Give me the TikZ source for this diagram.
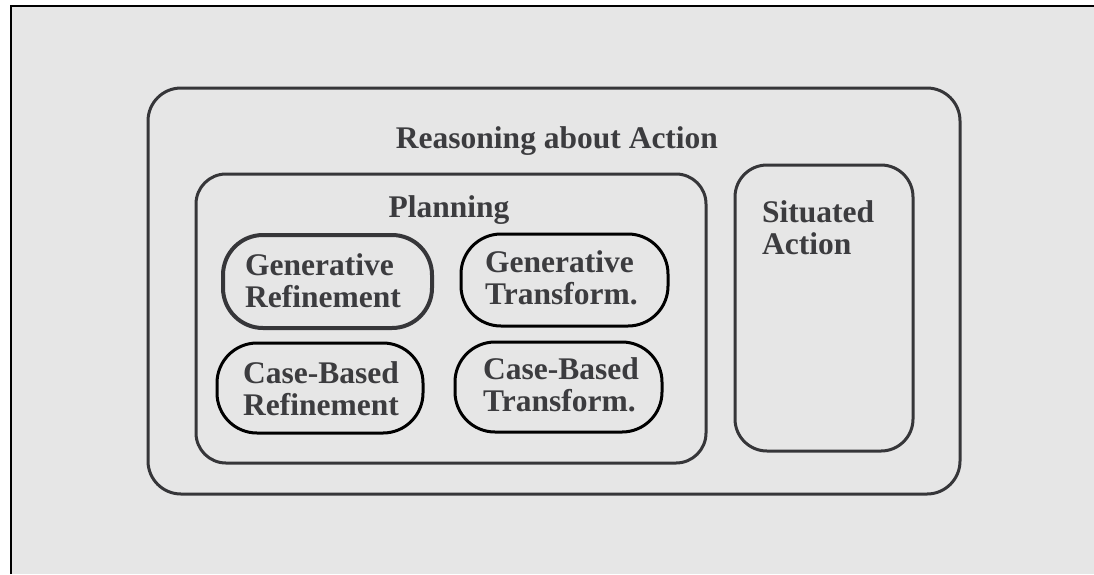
\documentclass[tikz,border=0pt]{standalone}
\usepackage{fontspec}
\setmainfont{Liberation Serif}
\definecolor{bg}{HTML}{E6E6E6}
\definecolor{stroke}{HTML}{363639}
\definecolor{txt}{HTML}{3C3C3F}
\tikzset{
  lbl/.style={text=txt, font=\fontsize{31.5}{32}\selectfont\bfseries, inner sep=0pt},
  plbl/.style={lbl, anchor=north west, align=left},
  bigbox/.style={draw=stroke, line width=3pt, rounded corners=33pt},
  pill/.style={draw=black, line width=3pt, rounded corners=40pt, inner sep=0pt},
  pillthick/.style={pill, draw=stroke, line width=4pt}
}
\begin{document}
\begin{tikzpicture}[x=1pt,y=-1pt]
\useasboundingbox (0,0) rectangle (1094,574);
\fill[white] (0,0) rectangle (1094,574);
\fill[bg] (11,6) rectangle (1094,574);
\draw[black, line width=1.5pt] (11,574) -- (11,6) -- (1094,6);

\node[bigbox, minimum width=812pt, minimum height=406pt] (outer) at (554,291) {};
\node[lbl, anchor=base] (reasoning) at (557,148) {Reasoning about Action};

\node[bigbox, minimum width=510pt, minimum height=289pt, rounded corners=30pt] (planning) at (451,318.5) {};
\node[lbl, anchor=base] (planlbl) at (449,217) {Planning};

\node[bigbox, minimum width=178pt, minimum height=286pt, rounded corners=32pt] (situated) at (824,308) {};
\node[plbl] (sitlbl) at (762,200) {Situated\\Action};

\node[pillthick, minimum width=209pt, minimum height=93pt] (gr) at (327.5,281.5) {};
\node[plbl] (grlbl) at (245,253.5) {Generative\\Refinement};
\node[pill, minimum width=207pt, minimum height=92pt] (gt) at (564.5,280) {};
\node[plbl] (gtlbl) at (485,250.5) {Generative\\Transform.};
\node[pill, minimum width=206pt, minimum height=90pt] (cr) at (320,388) {};
\node[plbl] (crlbl) at (243,361.5) {Case-Based\\Refinement};
\node[pill, minimum width=207pt, minimum height=90pt] (ct) at (558.5,387) {};
\node[plbl] (ctlbl) at (483,357.5) {Case-Based\\Transform.};
\end{tikzpicture}
\end{document}
